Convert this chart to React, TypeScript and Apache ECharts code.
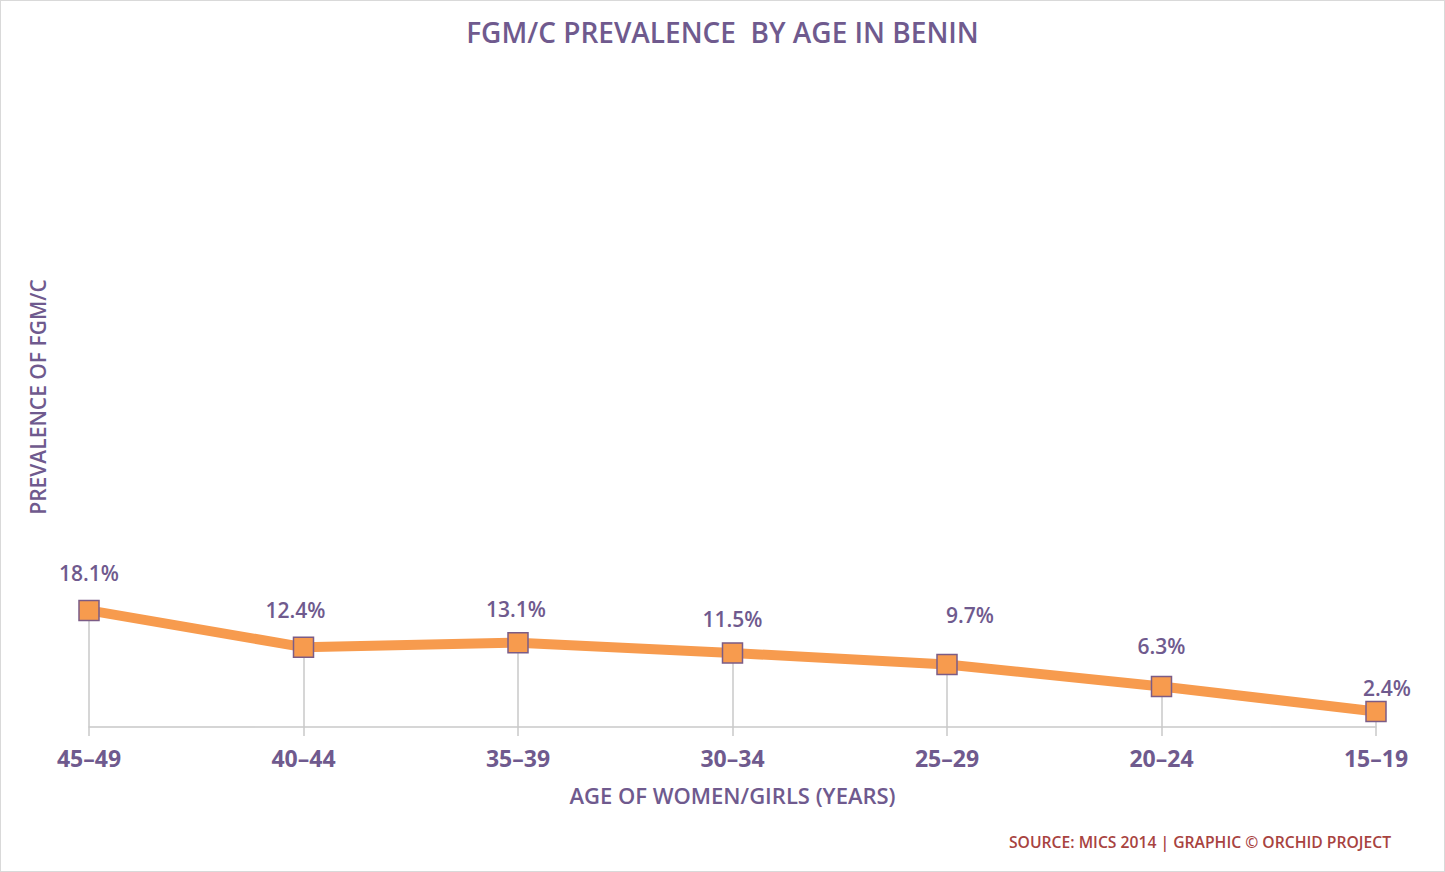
import React, { useEffect, useRef } from "react";
import * as echarts from "echarts";

const ageGroups = ["45–49", "40–44", "35–39", "30–34", "25–29", "20–24", "15–19"];
const prevalence = [18.1, 12.4, 13.1, 11.5, 9.7, 6.3, 2.4];
const yMin = 0;
const yMax = 100;

// label placement tweaks (pixels): [dx, dy]
const labelShift: [number, number][] = [
  [0, 0],
  [-8, 0],
  [-2, 4],
  [0, 3],
  [23, -12],
  [0, -3],
  [11, 14],
];

const PURPLE = "#6F5A8E";
const ORANGE = "#F79B4E";
const FONT = "'Open Sans', 'Noto Sans', sans-serif";

export default function App() {
  const ref = useRef<HTMLDivElement>(null);
  useEffect(() => {
    if (!ref.current) return;
    const chart = echarts.init(ref.current, undefined, { renderer: "svg" });
    const dropLines = prevalence.map((v, i) => [
      { coord: [i, 0] },
      { coord: [i, v] },
    ]);
    const seriesData = prevalence.map((v, i) => ({
      value: v,
      label: { offset: labelShift[i] },
    }));
    chart.setOption({
      animation: false,
      backgroundColor: "#ffffff",
      title: {
        text: "FGM/C PREVALENCE  BY AGE IN BENIN",
        left: "center",
        top: 12,
        textStyle: {
          color: PURPLE,
          fontFamily: FONT,
          fontWeight: 600,
          fontSize: 28,
        },
      },
      grid: { left: 88, right: 68, top: 82, bottom: 144, containLabel: false },
      xAxis: {
        type: "category",
        data: ageGroups,
        boundaryGap: false,
        name: "AGE OF WOMEN/GIRLS (YEARS)",
        nameLocation: "middle",
        nameGap: 57,
        nameTextStyle: {
          color: PURPLE,
          fontFamily: FONT,
          fontWeight: 600,
          fontSize: 22,
        },
        axisLine: { lineStyle: { color: "#C8C8C8", width: 1.5 } },
        axisTick: { show: true, length: 9, lineStyle: { color: "#C8C8C8", width: 1.5 }, alignWithLabel: true },
        axisLabel: {
          color: PURPLE,
          fontFamily: FONT,
          fontWeight: "bold",
          fontSize: 23,
          margin: 19,
        },
        splitLine: { show: false },
      },
      yAxis: {
        type: "value",
        min: yMin,
        max: yMax,
        axisLine: { show: false },
        axisTick: { show: false },
        axisLabel: { show: false },
        splitLine: { show: false },
      },
      series: [
        {
          type: "line",
          data: seriesData,
          symbol: "rect",
          symbolSize: 20,
          lineStyle: { color: ORANGE, width: 10 },
          itemStyle: { color: ORANGE, borderColor: "#7B5C86", borderWidth: 1.5 },
          label: {
            show: true,
            position: "top",
            distance: 16,
            formatter: (p: any) => p.value + "%",
            color: PURPLE,
            fontFamily: FONT,
            fontWeight: 600,
            fontSize: 21,
          },
          markLine: {
            silent: true,
            symbol: "none",
            label: { show: false },
            lineStyle: { color: "#C8C8C8", width: 1.5, type: "solid" },
            data: dropLines,
            z: 1,
          },
          z: 3,
        },
      ],
      graphic: [
        {
          type: "text",
          x: 37,
          y: 396,
          rotation: Math.PI / 2,
          style: {
            text: "PREVALENCE OF FGM/C",
            fill: PURPLE,
            font: `600 21px ${FONT}`,
            align: "center",
            verticalAlign: "middle",
          },
        },
        {
          type: "text",
          x: 1199,
          y: 841,
          style: {
            text: "SOURCE: MICS 2014 | GRAPHIC © ORCHID PROJECT",
            fill: "#A8433F",
            font: `600 15.7px ${FONT}`,
            align: "center",
            verticalAlign: "middle",
          },
        },
      ],
    });
    return () => chart.dispose();
  }, []);
  return (
    <div
      ref={ref}
      style={{
        position: "fixed",
        left: 0,
        top: 0,
        width: 1445,
        height: 872,
        boxSizing: "border-box",
        border: "1px solid #D9D9D9",
      }}
    />
  );
}
